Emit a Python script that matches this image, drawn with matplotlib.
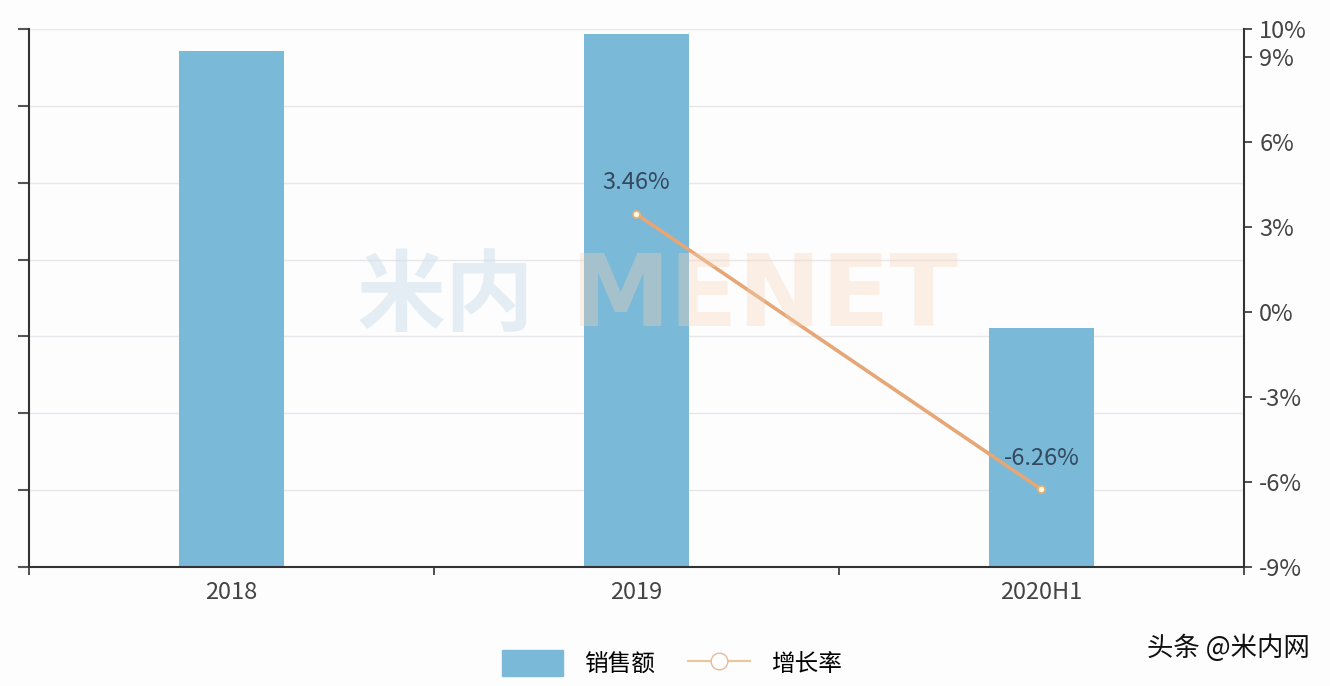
import matplotlib.pyplot as plt
from matplotlib.patches import Patch
from matplotlib.lines import Line2D

plt.rcParams['font.family'] = ['Noto Sans CJK SC', 'DejaVu Sans']

# Data
categories = ['2018', '2019', '2020H1']
sales = [6.71, 6.94, 3.11]          # left axis, unlabeled units
growth_x = ['2019', '2020H1']
growth = [3.46, -6.26]              # %
right_ticks = [-9, -6, -3, 0, 3, 6, 9, 10]

bar_color = '#7ab9d7'
line_color = '#e6a675'
text_color = '#444444'

fig = plt.figure(figsize=(13.3, 6.86), dpi=100)
fig.patch.set_facecolor('#fdfdfe')
ax = fig.add_axes([0.0218, 0.1735, 0.9135, 0.7842])
ax.set_facecolor('#fdfdfe')

x = list(range(len(categories)))
ax.bar(x, sales, width=0.26, color=bar_color, zorder=2)
ax.set_xlim(-0.5, 2.5)
ax.set_ylim(0, 7)
ax.set_yticks(range(8))
ax.set_yticklabels([])
ax.grid(axis='y', color='#e8e8ec', linewidth=1, zorder=0)
ax.set_xticks([-0.5, 0.5, 1.5, 2.5], minor=False)
ax.set_xticklabels([])
ax.set_xticks(x, minor=True)
ax.set_xticklabels(categories, minor=True, fontsize=17, color=text_color)
ax.tick_params(axis='x', which='minor', length=0, pad=10)
ax.tick_params(axis='x', which='major', length=6, color='#333333', width=1.2)
ax.tick_params(axis='y', length=8, color='#555555', width=1.5)
for s in ['top', 'right']:
    ax.spines[s].set_visible(False)
ax.spines['left'].set_color('#333333')
ax.spines['left'].set_linewidth(1.5)
ax.spines['bottom'].set_color('#333333')
ax.spines['bottom'].set_linewidth(1.5)

ax2 = ax.twinx()
gx = [categories.index(c) for c in growth_x]
ax2.plot(gx, growth, color=line_color, linewidth=2.6, marker='o', markersize=5,
         markerfacecolor='#fffbe8', markeredgecolor='#f0b070', markeredgewidth=1.2, zorder=5)
for xi, yi in zip(gx, growth):
    ax2.text(xi, yi + 0.7, f'{yi:.2f}%', ha='center', va='bottom', fontsize=17,
             color='#34495e')
ax2.set_ylim(-9, 10)
ax2.set_yticks(right_ticks)
ax2.set_yticklabels([f'{t}%' for t in right_ticks], fontsize=17, color=text_color)
ax2.tick_params(axis='y', length=6, color='#333333', width=1.2, pad=5)
for s in ['top', 'left', 'bottom']:
    ax2.spines[s].set_visible(False)
ax2.spines['right'].set_color('#333333')
ax2.spines['right'].set_linewidth(1.5)

# watermark
fig.text(0.335, 0.565, '米内', fontsize=64, color='#c9dbe8', alpha=0.45,
         ha='center', va='center', fontweight='bold')
fig.text(0.575, 0.565, 'MENET', fontsize=72, color='#f6d2b8', alpha=0.35,
         ha='center', va='center', fontweight='bold', family=['DejaVu Sans'])

handles = [Patch(facecolor=bar_color, edgecolor=bar_color, label='销售额'),
           Line2D([0], [0], color='#e8c89a', marker='o', markersize=12,
                  markerfacecolor='white', markeredgecolor='#e8b8a0', label='增长率')]
fig.legend(handles=handles, loc='center', bbox_to_anchor=(0.505, 0.033), ncol=2,
           frameon=False, fontsize=17, handlelength=2.6, handleheight=1.3,
           columnspacing=1.4, handletextpad=0.9)

fig.text(0.985, 0.055, '头条 @米内网', fontsize=19, color='#111111', ha='right', va='center')

fig.savefig('out.png', dpi=100, facecolor=fig.get_facecolor())
